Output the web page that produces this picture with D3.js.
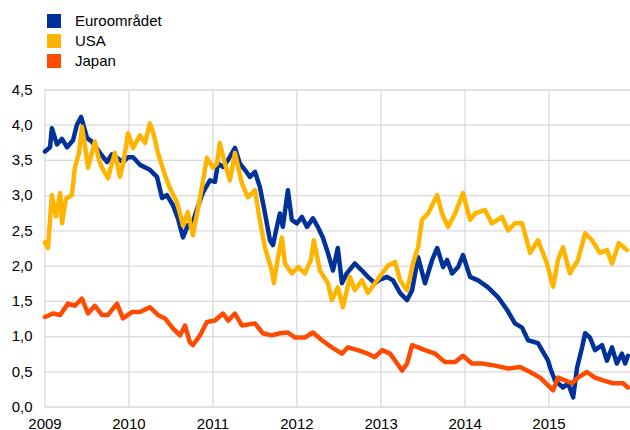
<!DOCTYPE html>
<html>
<head>
<meta charset="utf-8">
<script src="https://cdnjs.cloudflare.com/ajax/libs/d3/7.8.5/d3.min.js"></script>
<style>
	body { margin: 0; background: #fff; }
	text { font-family: "Liberation Sans", Arial, sans-serif; }
</style>
</head>
<body>
<div id="chart"></div>
<script>

// series names
var seriesNames = ["Euroområdet", "USA", "Japan"];

// tick labels
var yTicks = [0, 0.5, 1, 1.5, 2, 2.5, 3, 3.5, 4, 4.5];
var xTicks = [2009, 2010, 2011, 2012, 2013, 2014, 2015];

// euro area (decimal year, percent)
var euroTimes = [2009.006, 2009.065, 2009.089, 2009.149, 2009.208, 2009.268, 2009.339, 2009.387, 2009.435, 2009.506,
	2009.565, 2009.661, 2009.744, 2009.804, 2009.863, 2009.935, 2009.994, 2010.054, 2010.137, 2010.256,
	2010.339, 2010.399, 2010.458, 2010.530, 2010.589, 2010.649, 2010.708, 2010.768, 2010.815, 2010.887,
	2010.970, 2011.030, 2011.065, 2011.125, 2011.185, 2011.268, 2011.327, 2011.387, 2011.446, 2011.506,
	2011.565, 2011.625, 2011.685, 2011.720, 2011.768, 2011.804, 2011.839, 2011.899, 2011.946, 2012.006,
	2012.065, 2012.125, 2012.196, 2012.256, 2012.315, 2012.375, 2012.435, 2012.494, 2012.542, 2012.601,
	2012.696, 2012.780, 2012.851, 2012.935, 2012.994, 2013.077, 2013.149, 2013.232, 2013.315, 2013.375,
	2013.446, 2013.530, 2013.613, 2013.673, 2013.744, 2013.792, 2013.851, 2013.923, 2013.982, 2014.065,
	2014.161, 2014.280, 2014.399, 2014.506, 2014.601, 2014.685, 2014.756, 2014.875, 2014.994, 2015.018,
	2015.077, 2015.173, 2015.232, 2015.292, 2015.339, 2015.399, 2015.435, 2015.494, 2015.554, 2015.637,
	2015.696, 2015.756, 2015.815, 2015.875, 2015.911, 2015.946];
var euroValues = [3.62, 3.68, 3.95, 3.72, 3.80, 3.68, 3.78, 4.00, 4.11, 3.81,
	3.76, 3.60, 3.47, 3.58, 3.53, 3.47, 3.54, 3.54, 3.43, 3.36,
	3.26, 2.96, 3.00, 2.86, 2.67, 2.40, 2.57, 2.62, 2.79, 3.04,
	3.21, 3.19, 3.45, 3.40, 3.50, 3.67, 3.45, 3.36, 3.26, 3.33,
	3.12, 2.75, 2.36, 2.29, 2.55, 2.74, 2.55, 3.07, 2.65, 2.60,
	2.69, 2.55, 2.67, 2.55, 2.40, 2.18, 1.93, 2.25, 1.75, 1.89,
	2.03, 1.93, 1.84, 1.75, 1.80, 1.84, 1.79, 1.61, 1.51, 1.65,
	2.12, 1.75, 2.08, 2.25, 1.98, 2.08, 1.89, 1.98, 2.15, 1.84,
	1.79, 1.69, 1.55, 1.37, 1.18, 1.12, 0.94, 0.90, 0.65, 0.55,
	0.37, 0.27, 0.33, 0.13, 0.55, 0.84, 1.04, 0.98, 0.80, 0.87,
	0.65, 0.84, 0.61, 0.75, 0.61, 0.72];

// USA
var usaTimes = [2009.006, 2009.042, 2009.089, 2009.137, 2009.185, 2009.208, 2009.256, 2009.327, 2009.363, 2009.411,
	2009.446, 2009.482, 2009.518, 2009.565, 2009.601, 2009.649, 2009.685, 2009.756, 2009.804, 2009.839,
	2009.899, 2009.946, 2009.994, 2010.054, 2010.137, 2010.196, 2010.256, 2010.304, 2010.351, 2010.435,
	2010.494, 2010.577, 2010.649, 2010.708, 2010.768, 2010.851, 2010.935, 2011.006, 2011.054, 2011.089,
	2011.149, 2011.208, 2011.268, 2011.351, 2011.423, 2011.506, 2011.565, 2011.625, 2011.708, 2011.732,
	2011.780, 2011.827, 2011.863, 2011.946, 2012.018, 2012.101, 2012.173, 2012.208, 2012.280, 2012.375,
	2012.423, 2012.494, 2012.554, 2012.637, 2012.696, 2012.780, 2012.851, 2012.935, 2013.018, 2013.089,
	2013.173, 2013.232, 2013.315, 2013.387, 2013.446, 2013.494, 2013.565, 2013.673, 2013.732, 2013.804,
	2013.887, 2013.982, 2014.065, 2014.125, 2014.244, 2014.327, 2014.446, 2014.518, 2014.601, 2014.685,
	2014.780, 2014.875, 2014.982, 2015.054, 2015.113, 2015.173, 2015.256, 2015.351, 2015.435, 2015.518,
	2015.613, 2015.696, 2015.756, 2015.839, 2015.935];
var usaValues = [2.33, 2.25, 3.00, 2.70, 3.03, 2.60, 2.95, 3.00, 3.39, 3.60,
	3.97, 3.70, 3.39, 3.60, 3.76, 3.50, 3.39, 3.24, 3.45, 3.60,
	3.26, 3.50, 3.88, 3.67, 3.85, 3.74, 4.02, 3.85, 3.60, 3.28,
	3.10, 2.90, 2.57, 2.76, 2.43, 2.96, 3.53, 3.39, 3.45, 3.74,
	3.45, 3.21, 3.60, 3.17, 2.97, 3.07, 2.65, 2.26, 1.93, 1.75,
	2.12, 2.40, 2.03, 1.89, 1.98, 1.89, 2.08, 2.36, 1.93, 1.75,
	1.51, 1.69, 1.41, 1.84, 1.65, 1.79, 1.61, 1.75, 1.89, 2.00,
	2.05, 1.79, 1.65, 2.03, 2.26, 2.65, 2.74, 3.00, 2.74, 2.55,
	2.74, 3.03, 2.65, 2.74, 2.79, 2.60, 2.69, 2.50, 2.60, 2.60,
	2.18, 2.36, 2.03, 1.70, 2.08, 2.26, 1.89, 2.08, 2.46, 2.36,
	2.18, 2.22, 2.03, 2.32, 2.22];

// Japan
var japanTimes = [2009.006, 2009.101, 2009.185, 2009.280, 2009.363, 2009.446, 2009.518, 2009.601, 2009.685, 2009.756,
	2009.863, 2009.935, 2010.042, 2010.137, 2010.256, 2010.351, 2010.435, 2010.530, 2010.613, 2010.673,
	2010.732, 2010.768, 2010.851, 2010.935, 2011.030, 2011.125, 2011.185, 2011.268, 2011.351, 2011.506,
	2011.601, 2011.708, 2011.804, 2011.899, 2011.982, 2012.101, 2012.196, 2012.304, 2012.423, 2012.542,
	2012.613, 2012.732, 2012.851, 2012.935, 2013.018, 2013.113, 2013.196, 2013.256, 2013.315, 2013.375,
	2013.446, 2013.530, 2013.649, 2013.768, 2013.887, 2013.982, 2014.089, 2014.208, 2014.363, 2014.518,
	2014.661, 2014.780, 2014.899, 2015.018, 2015.054, 2015.113, 2015.196, 2015.280, 2015.351, 2015.458,
	2015.554, 2015.649, 2015.768, 2015.887, 2015.946];
var japanValues = [1.27, 1.32, 1.30, 1.46, 1.43, 1.53, 1.32, 1.43, 1.30, 1.30,
	1.46, 1.25, 1.34, 1.34, 1.41, 1.30, 1.25, 1.11, 1.01, 1.15,
	0.91, 0.87, 1.01, 1.20, 1.22, 1.32, 1.22, 1.32, 1.15, 1.18,
	1.04, 1.01, 1.04, 1.05, 0.98, 0.98, 1.05, 0.94, 0.84, 0.75,
	0.84, 0.80, 0.75, 0.70, 0.80, 0.75, 0.61, 0.51, 0.61, 0.87,
	0.84, 0.80, 0.75, 0.63, 0.63, 0.72, 0.61, 0.61, 0.58, 0.54,
	0.56, 0.49, 0.41, 0.27, 0.23, 0.41, 0.37, 0.33, 0.41, 0.49,
	0.41, 0.37, 0.33, 0.33, 0.27];

// colours
var colors = ["#003299", "#FFB400", "#FF4B00"];

// decimal year -> date
function toDate(t){
	var yr = Math.floor(t);
	return new Date(yr, 0, 1 + Math.round((t - yr) * 365));
}

function pairs(times, values){
	return times.map(function(t, i){ return { date: toDate(t), value: values[i] }; });
}

var series = [pairs(euroTimes, euroValues), pairs(usaTimes, usaValues), pairs(japanTimes, japanValues)];

// width and height
var width = 630,
	height = 430;

var margin = { left: 44.5, top: 89.5, bottom: 23.5 };

// svg
var svg = d3.select("#chart")
	.append("svg")
	.attr("width", width)
	.attr("height", height);

// x and y
var x = d3.scaleTime()
	.domain([new Date(2009, 0, 1), new Date(2016, 0, 1)])
	.range([margin.left, margin.left + 7 * 84]);

var y = d3.scaleLinear()
	.domain([0, 4.5])
	.range([height - margin.bottom, margin.top]);

var fmt = d3.format(".1f");

// add the Y gridlines
var yGrid = svg.append("g")
	.attr("class", "grid")
	.attr("transform", "translate(" + margin.left + ",0)")
	.call(d3.axisLeft(y)
		.tickValues(yTicks)
		.tickSize(-(width - margin.left))
		.tickFormat(""));
yGrid.select(".domain").remove();
yGrid.selectAll("line").attr("stroke", "#d9d9d9").attr("stroke-width", 1.3);

// add the X gridlines
var xGrid = svg.append("g")
	.attr("class", "grid")
	.attr("transform", "translate(0," + y(0) + ")")
	.call(d3.axisBottom(x)
		.tickValues(xTicks.map(function(d){ return new Date(d, 0, 1); }))
		.tickSize(-(y(0) - y(4.5)))
		.tickFormat(""));
xGrid.select(".domain").remove();
xGrid.selectAll("line").attr("stroke", "#d9d9d9").attr("stroke-width", 1.3);

// y labels
var yAxis = svg.append("g")
	.attr("class", "y-axis")
	.attr("transform", "translate(" + margin.left + ",0)")
	.call(d3.axisLeft(y)
		.tickValues(yTicks)
		.tickSize(0)
		.tickPadding(12)
		.tickFormat(function(d){ return fmt(d).replace(".", ","); }));
yAxis.select(".domain").remove();
yAxis.selectAll("text")
	.attr("font-size", "15px")
	.attr("font-family", "Liberation Sans, Arial, sans-serif")
	.attr("fill", "#000");

// x labels
var xAxis = svg.append("g")
	.attr("class", "x-axis")
	.attr("transform", "translate(0," + y(0) + ")")
	.call(d3.axisBottom(x)
		.tickValues(xTicks.map(function(d){ return new Date(d, 0, 1); }))
		.tickSize(0)
		.tickFormat(d3.timeFormat("%Y")));
xAxis.select(".domain").remove();
xAxis.selectAll("text")
	.attr("y", 22)
	.attr("dy", 0)
	.attr("font-size", "15px")
	.attr("font-family", "Liberation Sans, Arial, sans-serif")
	.attr("fill", "#000");

// lines
var line = d3.line()
	.x(function(d){ return x(d.date); })
	.y(function(d){ return y(d.value); });

svg.append("g")
	.attr("class", "lines")
	.selectAll("path")
	.data(series)
	.enter()
	.append("path")
		.attr("d", line)
		.attr("fill", "none")
		.attr("stroke", function(d, i){ return colors[i]; })
		.attr("stroke-width", 4.5)
		.attr("stroke-linejoin", "round")
		.attr("stroke-linecap", "round");

// legend
var legend = svg.append("g")
	.attr("class", "legend")
	.selectAll("g")
	.data(seriesNames)
	.enter()
	.append("g")
	.attr("transform", function(d, i){ return "translate(47," + (14 + i * 20) + ")"; });

legend.append("rect")
	.attr("width", 14)
	.attr("height", 14)
	.attr("fill", function(d, i){ return colors[i]; });

legend.append("text")
	.attr("x", 28)
	.attr("y", 7)
	.attr("dy", "0.35em")
	.attr("font-size", "15px")
	.attr("fill", "#000")
	.text(function(d){ return d; });

</script>
</body>
</html>
